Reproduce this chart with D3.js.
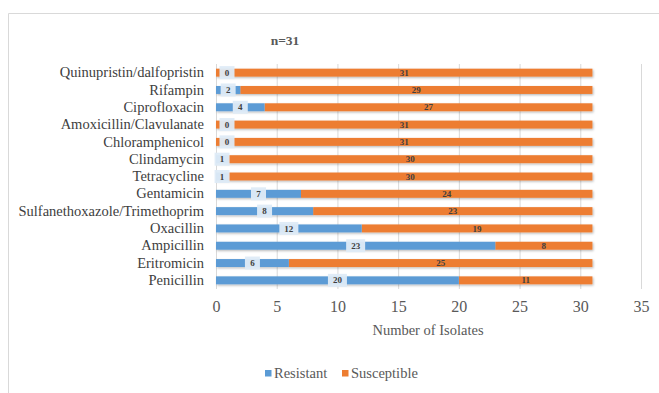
<!DOCTYPE html>
<html><head><meta charset="utf-8">
<script src="https://cdn.jsdelivr.net/npm/d3@7"></script>
<style>body{margin:0;background:#fff}svg{display:block}</style>
</head><body>
<svg id="c" width="659" height="393"></svg>
<script>
const categories = ["Quinupristin/dalfopristin","Rifampin","Ciprofloxacin","Amoxicillin/Clavulanate","Chloramphenicol","Clindamycin","Tetracycline","Gentamicin","Sulfanethoxazole/Trimethoprim","Oxacillin","Ampicillin","Eritromicin","Penicillin"];
const resistant = [0,2,4,0,0,1,1,7,8,12,23,6,20];
const susceptible = [31,29,27,31,31,30,30,24,23,19,8,25,11];
const xTicks = [0,5,10,15,20,25,30,35];
const seriesNames = ["Resistant","Susceptible"];
const colors = ["#5B9BD5","#ED7D31"];
const title = "n=31";
const xTitle = "Number of Isolates";

const svg = d3.select("#c");
const serif = "Liberation Serif, Times New Roman, Times, serif";
const defs = svg.append("defs");
const f = defs.append("filter").attr("id","sh").attr("x","-5%").attr("y","-40%").attr("width","110%").attr("height","200%");
f.append("feDropShadow").attr("dx",1).attr("dy",1.2).attr("stdDeviation",0.8).attr("flood-color","#000").attr("flood-opacity",0.28);

// chart border
svg.append("path").attr("d","M8.5,393 V13.5 H659").attr("fill","none").attr("stroke","#d9d9d9").attr("stroke-width",1);

const x = d3.scaleLinear().domain([0,35]).range([216,641]);
const y = d3.scaleBand().domain(categories).range([64,289]).paddingInner(0.54).paddingOuter(0.27);

// gridlines
svg.append("g").selectAll("line").data(xTicks).join("line")
  .attr("x1",d=>x(d)+0.5).attr("x2",d=>x(d)+0.5).attr("y1",64).attr("y2",289)
  .attr("stroke","#d9d9d9").attr("stroke-width",1);

// x axis labels
const ax = svg.append("g").attr("transform","translate(0,289)")
  .call(d3.axisBottom(x).tickValues(xTicks).tickSize(0).tickPadding(12));
ax.select(".domain").remove();
ax.selectAll("text").attr("font-family",serif).attr("font-size",16).attr("fill","#595959");

// y labels
const ay = svg.append("g").attr("transform","translate(204,0)")
  .call(d3.axisLeft(y).tickSize(0).tickPadding(0));
ay.select(".domain").remove();
ay.selectAll("text").attr("font-family",serif).attr("font-size",14.5).attr("fill","#404040");

const rows = categories.map((c,i)=>({c, r:resistant[i], s:susceptible[i]}));
const g = svg.append("g").attr("filter","url(#sh)");
g.selectAll("rect.s").data(rows).join("rect").attr("class","s")
  .attr("x",d=>x(d.r)).attr("width",d=>x(d.r+d.s)-x(d.r))
  .attr("y",d=>y(d.c)).attr("height",y.bandwidth()).attr("fill",colors[1]);
g.selectAll("rect.r").data(rows.filter(d=>d.r>0)).join("rect").attr("class","r")
  .attr("x",x(0)).attr("width",d=>x(d.r)-x(0))
  .attr("y",d=>y(d.c)).attr("height",y.bandwidth()).attr("fill",colors[0]);

// resistant labels with boxes
const lab = svg.append("g");
rows.forEach(d=>{
  const cx = d.r===0 ? x(0)+11 : x(d.r/2);
  const cy = y(d.c)+y.bandwidth()/2;
  const w = String(d.r).length>1 ? 19 : 15;
  lab.append("rect").attr("x",cx-w/2).attr("y",cy-6.5).attr("width",w).attr("height",13)
    .attr("fill","#deebf7").attr("opacity",0.95);
  lab.append("text").attr("x",cx).attr("y",cy).attr("dy","0.35em").attr("text-anchor","middle")
    .attr("font-family",serif).attr("font-size",9).attr("font-weight","bold").attr("fill","#404040").text(d.r);
  lab.append("text").attr("x",x(d.r+d.s/2)).attr("y",cy).attr("dy","0.35em").attr("text-anchor","middle")
    .attr("font-family",serif).attr("font-size",9).attr("font-weight","bold").attr("fill","#404040").text(d.s);
});

// titles
svg.append("text").attr("x",285).attr("y",45).attr("text-anchor","middle")
  .attr("font-family",serif).attr("font-size",13.5).attr("font-weight","bold").attr("fill","#595959").text(title);
svg.append("text").attr("x",428).attr("y",335).attr("text-anchor","middle")
  .attr("font-family",serif).attr("font-size",14.5).attr("fill","#595959").text(xTitle);

// legend
const leg = svg.append("g");
const legX = [265,342];
seriesNames.forEach((n,i)=>{
  leg.append("rect").attr("x",legX[i]).attr("y",370).attr("width",6.5).attr("height",6.5).attr("fill",colors[i]);
  leg.append("text").attr("x",legX[i]+9).attr("y",377.5).attr("font-family",serif).attr("font-size",14.5).attr("fill","#595959").text(n);
});
</script>
</body></html>
